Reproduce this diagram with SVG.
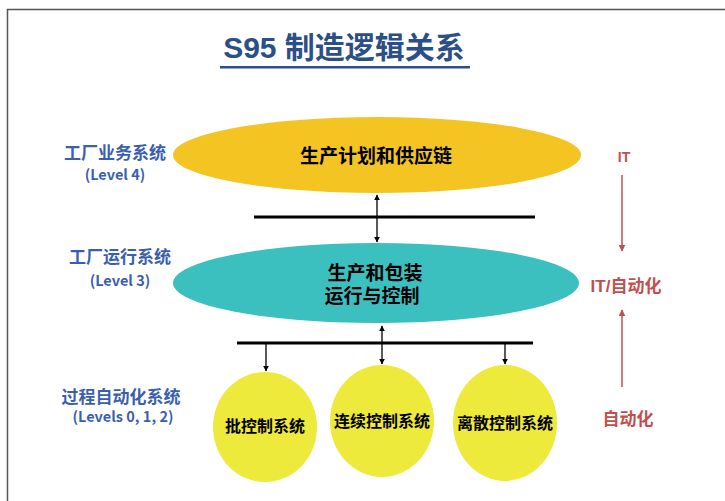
<svg xmlns="http://www.w3.org/2000/svg" width="725" height="501" viewBox="0 0 725 501">
<defs>
<style>
.cjk{font-family:"Liberation Sans","Noto Sans CJK SC",sans-serif;font-weight:bold;text-anchor:middle}
.lvl{font-family:"Noto Sans CJK SC","Noto Sans",sans-serif;font-weight:bold;text-anchor:middle;font-size:14.5px}
.blue{fill:#3B5FAE}
.red{fill:#C0504D}
.blk{fill:#000}
.bar{stroke:#000;stroke-width:3}
.conn{stroke:#000;stroke-width:1.3;fill:none}
.rconn{stroke:#C0504D;stroke-width:1.5;fill:none}
</style>
<marker id="ah" viewBox="0 0 10 10" refX="9" refY="5" markerWidth="6" markerHeight="6" orient="auto-start-reverse" markerUnits="userSpaceOnUse">
<path d="M0,0 L10,5 L0,10 z" fill="#000"/>
</marker>
<marker id="rh" viewBox="0 0 10 10" refX="9" refY="5" markerWidth="7" markerHeight="7" orient="auto-start-reverse" markerUnits="userSpaceOnUse">
<path d="M0,0 L10,5 L0,10 z" fill="#C0504D"/>
</marker>
</defs>
<rect width="725" height="501" fill="#fff"/>
<path d="M7.5,501 V9.5 H725" stroke="#555" stroke-width="1.5" fill="none"/>

<g id="title">
<text x="344" y="58" class="cjk" font-size="30" fill="#2B4F87">S95 制造逻辑关系</text>
<rect x="220" y="66" width="250" height="2.5" fill="#2B4F87"/>
</g>

<g id="labels-left">
<text x="115" y="159" class="cjk blue" font-size="17">工厂业务系统</text>
<text x="115" y="180" class="lvl blue">(Level 4)</text>
<text x="120" y="263" class="cjk blue" font-size="17">工厂运行系统</text>
<text x="120" y="286" class="lvl blue">(Level 3)</text>
<text x="121" y="403" class="cjk blue" font-size="17">过程自动化系统</text>
<text x="123" y="422" class="lvl blue">(Levels 0, 1, 2)</text>
</g>

<g id="labels-right">
<text x="624" y="162" class="cjk red" font-size="14">IT</text>
<text x="626" y="292" class="cjk red" font-size="17">IT/自动化</text>
<text x="628" y="425" class="cjk red" font-size="17">自动化</text>
</g>

<g id="node-plan">
<ellipse cx="377" cy="155" rx="204" ry="38" fill="#F4C522"/>
<text x="376" y="163" class="cjk blk" font-size="19">生产计划和供应链</text>
</g>

<g id="node-ops">
<ellipse cx="376" cy="283" rx="203" ry="40" fill="#3BBFBF"/>
<text x="375" y="280" class="cjk blk" font-size="19">生产和包装</text>
<text x="372" y="303" class="cjk blk" font-size="19">运行与控制</text>
</g>

<g id="node-batch">
<ellipse cx="265" cy="427" rx="52" ry="55" fill="#EEEA3C"/>
<text x="265" y="432" class="cjk blk" font-size="16">批控制系统</text>
</g>
<g id="node-continuous">
<ellipse cx="382" cy="421" rx="52" ry="56" fill="#EEEA3C"/>
<text x="382" y="427" class="cjk blk" font-size="16">连续控制系统</text>
</g>
<g id="node-discrete">
<ellipse cx="505" cy="423" rx="52" ry="58" fill="#EEEA3C"/>
<text x="505" y="429" class="cjk blk" font-size="16">离散控制系统</text>
</g>

<g id="connectors">
<line x1="254" y1="217" x2="535" y2="217" class="bar"/>
<line x1="237" y1="343" x2="533" y2="343" class="bar"/>
<line x1="377" y1="195" x2="377" y2="242" class="conn" marker-start="url(#ah)" marker-end="url(#ah)"/>
<line x1="382" y1="326" x2="382" y2="364" class="conn" marker-start="url(#ah)" marker-end="url(#ah)"/>
<line x1="266" y1="343" x2="266" y2="371" class="conn" marker-end="url(#ah)"/>
<line x1="505" y1="343" x2="505" y2="364" class="conn" marker-end="url(#ah)"/>
<line x1="622" y1="175" x2="622" y2="251" class="rconn" marker-end="url(#rh)"/>
<line x1="622" y1="387" x2="622" y2="310" class="rconn" marker-end="url(#rh)"/>
</g>
</svg>
